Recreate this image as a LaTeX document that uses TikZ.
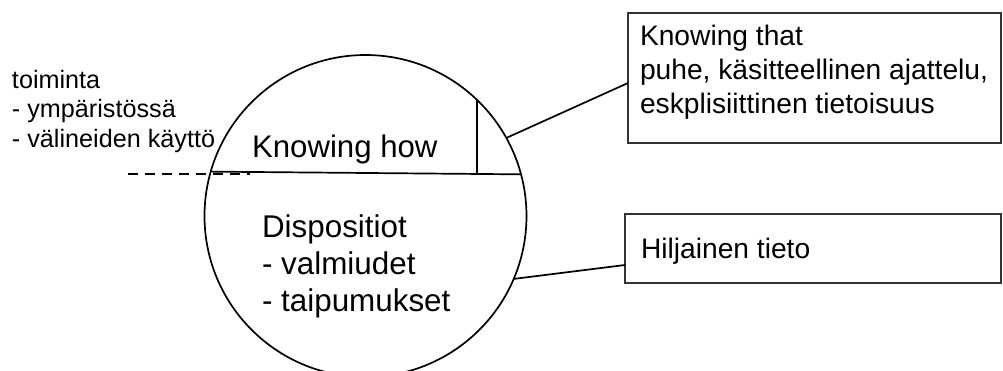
\documentclass[tikz,border=0pt]{standalone}
\usepackage{fontspec}
\setmainfont{Liberation Sans}
\begin{document}
\begin{tikzpicture}[x=1pt,y=-1pt,
  every node/.style={inner sep=0pt, outer sep=0pt},
  outline/.style={draw=black, line width=1.7pt},
  infobox/.style={draw=black!80, line width=1.7pt, rectangle},
  lbl/.style={align=left, anchor=base west, text=black},
  link/.style={draw=black, line width=1.7pt}
]
\useasboundingbox (0,0) rectangle (1003,370);

% the knowledge circle
\node[outline, circle, minimum size=322pt] (circ) at (365.5,216) {};
\draw[link] (circ.164.9) -- (circ.15.1) coordinate (chordR);
\draw[link] (circ.46.2) -- (circ.46.2 |- chordR);

% dashed extension of the dividing line
\coordinate (dashL) at (128,174);
\coordinate (dashR) at (250,174);
\draw[link, dash pattern=on 10pt off 7pt] (dashL) -- (dashR);

% texts in and beside the circle (base = last line)
\node[lbl, font=\fontsize{25.2}{29.5}\selectfont] (act) at (12,147)
  {toiminta\\- ympäristössä\\- välineiden käyttö};
\node[lbl, font=\fontsize{31.2}{37}\selectfont] (how) at (252,157) {Knowing how};
\node[lbl, font=\fontsize{31.4}{37}\selectfont] (disp) at (262,311)
  {Dispositiot\\- valmiudet\\- taipumukset};

% explanation boxes
\node[infobox, minimum width=373pt, minimum height=130pt] (box1) at (814.5,78) {};
\node[infobox, minimum width=376pt, minimum height=69pt] (box2) at (813,248.5) {};
\node[lbl, font=\fontsize{28.2}{34}\selectfont] (that) at (640,113)
  {Knowing that\\puhe, käsitteellinen ajattelu,\\eskplisiittinen tietoisuus};
\node[lbl, font=\fontsize{28.2}{34}\selectfont] (tacit) at (641,258) {Hiljainen tieto};

% connectors
\draw[link] (circ.29) -- ([yshift=-5pt]box1.west);
\draw[link] (circ.-23.2) -- ([yshift=-16.5pt]box2.west);
\end{tikzpicture}
\end{document}
